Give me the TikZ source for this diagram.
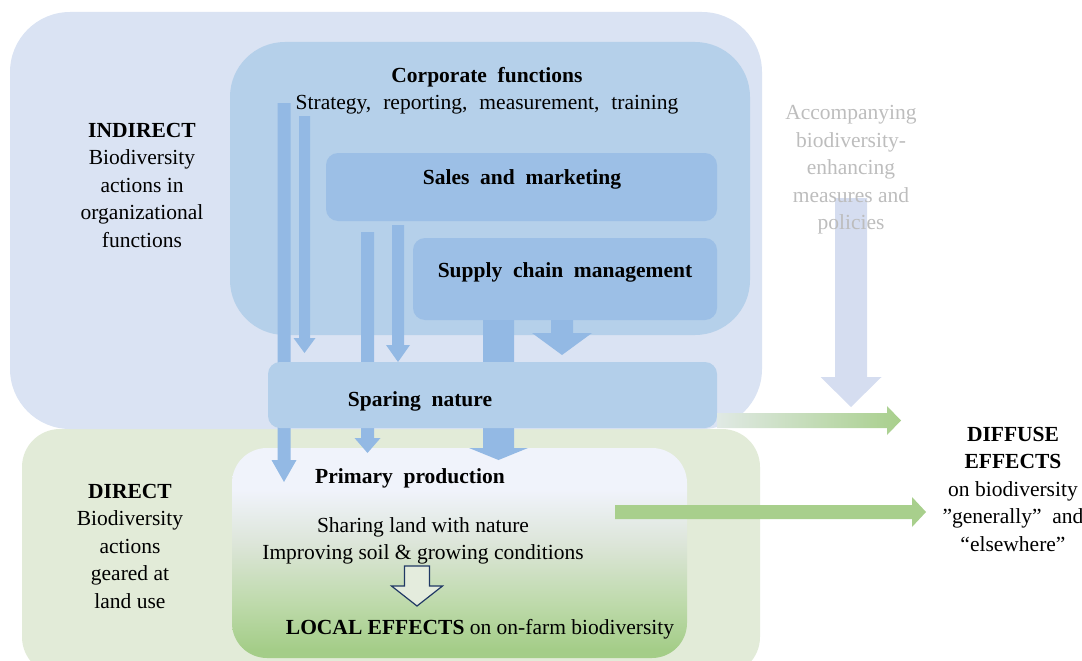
\documentclass[tikz,border=0pt]{standalone}
\usepackage{fontspec}
\setmainfont{Liberation Serif}
\definecolor{outerblue}{HTML}{DAE3F3}
\definecolor{corpblue}{HTML}{B5D0EA}
\definecolor{salesblue}{HTML}{9CBFE6}
\definecolor{arrowblue}{HTML}{93B9E4}
\definecolor{sparblue}{HTML}{B3CFEA}
\definecolor{outergreen}{HTML}{E2EBD8}
\definecolor{accblue}{HTML}{D5DDF0}
\definecolor{graytext}{HTML}{BDBDBD}
\definecolor{arrowgreen}{HTML}{A8CF8C}
\definecolor{palegreen}{HTML}{E0E9E4}
\definecolor{navy}{HTML}{203864}
\definecolor{hollowfill}{HTML}{E4ECDD}
\definecolor{pgA}{HTML}{A4CD88}
\definecolor{pgB}{HTML}{BEDAAB}
\definecolor{pgC}{HTML}{DCE5D8}
\definecolor{pgD}{HTML}{F0F3FB}
\pgfdeclareverticalshading{primsh}{100bp}{color(0bp)=(pgA); color(27bp)=(pgA); color(38bp)=(pgB); color(52bp)=(pgC); color(65bp)=(pgD); color(75bp)=(pgD); color(100bp)=(pgD)}
% block arrow pointing down: style, cx, ytop, ytip, shaft half width, head half width, head length
\newcommand\blkdown[7]{%
  \path[#1] ({#2-#5},#3) -- ({#2+#5},#3) -- ({#2+#5},{#4-#7}) -- ({#2+#6},{#4-#7}) -- (#2,#4) -- ({#2-#6},{#4-#7}) -- ({#2-#5},{#4-#7}) -- cycle;}
% block arrow pointing right: style, xleft, xtip, cy, shaft half width, head half width, head length
\newcommand\blkright[7]{%
  \path[#1] (#2,{#4-#5}) -- ({#3-#7},{#4-#5}) -- ({#3-#7},{#4-#6}) -- (#3,#4) -- ({#3-#7},{#4+#6}) -- ({#3-#7},{#4+#5}) -- (#2,{#4+#5}) -- cycle;}
\newcommand\wsp{\hspace{12pt}}
\tikzset{
  txt/.style={font=\fontsize{21.5}{27.5}\selectfont, align=center, inner sep=0pt, text=black},
  boldtxt/.style={txt, font=\fontsize{21.5}{27.5}\selectfont\bfseries},
}
\begin{document}
\begin{tikzpicture}[x=1pt,y=-1pt]
\useasboundingbox (0,0) rectangle (1082,661);
% backgrounds
\fill[outergreen, rounded corners=38] (22,429) rectangle (760,675);
\fill[outerblue, rounded corners=60] (10,12) rectangle (762,429);
\fill[corpblue, rounded corners=55] (230,42) rectangle (750,335);
\fill[salesblue, rounded corners=12] (326,153) rectangle (717,221);
\fill[salesblue, rounded corners=12] (413,238) rectangle (717,320);
\shade[shading=primsh, rounded corners=35] (232,448) rectangle (687,658);
% blue arrows
\blkdown{fill=arrowblue}{284}{103}{482}{6.5}{12.5}{22}
\blkdown{fill=arrowblue}{304.5}{116}{353}{5.5}{11}{15}
\blkdown{fill=arrowblue}{367.5}{232}{453}{6.5}{13}{15}
\blkdown{fill=arrowblue}{398}{225}{362}{6}{12}{17}
\blkdown{fill=arrowblue}{498.5}{320}{460}{15.5}{29.5}{12}
\blkdown{fill=arrowblue}{562}{320}{355}{11}{30}{22}
% sparing nature box on top of the arrows
\fill[sparblue, rounded corners=12] (268,362) rectangle (717,428);
% accompanying arrow
\blkdown{fill=accblue}{851}{198}{407}{16}{30.5}{30}
% green arrows
\blkright{left color=palegreen, right color=arrowgreen}{717}{901}{420.5}{7.5}{14.5}{14}
\blkright{fill=arrowgreen}{615}{926}{512}{7}{15}{14}
% hollow arrow
\blkdown{fill=hollowfill, draw=navy, line width=1.2pt, line join=miter}{417}{566}{606}{12.5}{25.5}{20}
% texts
\node[txt] (indirect) at (142,185) {\textbf{INDIRECT}\\Biodiversity\\actions in\\organizational\\functions};
\node[txt] (direct) at (130,546) {\textbf{DIRECT}\\Biodiversity\\actions\\geared at\\land use};
\node[txt, text=graytext] (accomp) at (851,170) {Accompanying\\biodiversity-\\enhancing\\measures and\\policies};
\node[txt] (diffuse) at (1013,489) {\textbf{DIFFUSE}\\\textbf{EFFECTS}\\on biodiversity\\”generally”\ \ and\\“elsewhere”};
\node[txt] (corp) at (487,91) {\textbf{Corporate\ \ functions}\\Strategy,\wsp reporting,\wsp measurement,\wsp training};
\node[boldtxt] (sales) at (522,179) {Sales\ \ and\ \ marketing};
\node[boldtxt] (supply) at (565,272) {Supply\ \ chain\ \ management};
\node[boldtxt] (sparing) at (420,401) {Sparing\ \ nature};
\node[boldtxt] (primary) at (410,478) {Primary\ \ production};
\node[txt] (sharing) at (423,541) {Sharing land with nature\\Improving soil \& growing conditions};
\node[txt] (local) at (480,629) {\textbf{LOCAL EFFECTS} on on-farm biodiversity};
\end{tikzpicture}
\end{document}
